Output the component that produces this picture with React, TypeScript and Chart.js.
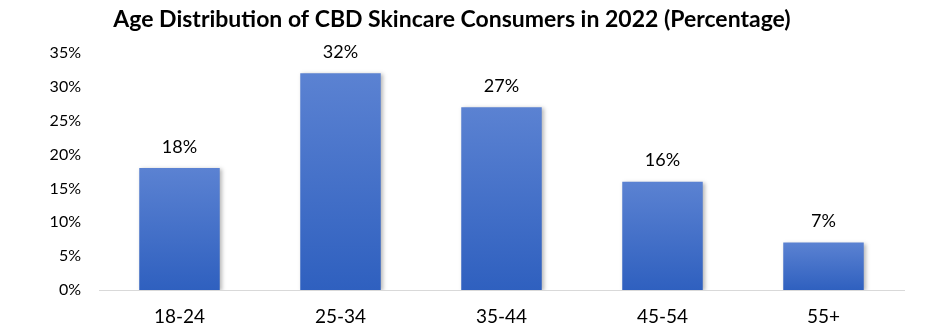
import React, { useEffect, useRef } from "react";
import { Chart, registerables } from "chart.js";

Chart.register(...registerables);

const titleText = "Age Distribution of CBD Skincare Consumers in 2022 (Percentage)";
const categories = ["18-24", "25-34", "35-44", "45-54", "55+"];
const shares = [18, 32, 27, 16, 7];
const yMax = 35;
const yStep = 5;

const FONT = "Lato, 'Open Sans', sans-serif";

const labelPlugin = {
  id: "barLabels",
  beforeDatasetsDraw(chart: any) {
    const ctx = chart.ctx;
    ctx.save();
    ctx.shadowColor = "rgba(0,0,0,0.28)";
    ctx.shadowBlur = 4;
    ctx.shadowOffsetX = 2;
    ctx.shadowOffsetY = 1;
  },
  afterDatasetsDraw(chart: any) {
    const ctx = chart.ctx;
    ctx.restore();
    const meta = chart.getDatasetMeta(0);
    ctx.save();
    ctx.font = `18px ${FONT}`;
    ctx.fillStyle = "#000";
    ctx.textAlign = "center";
    ctx.textBaseline = "middle";
    meta.data.forEach((bar: any, i: number) => {
      ctx.fillText(`${shares[i]}%`, bar.x, bar.y - 21);
    });
    ctx.restore();
  },
};

export default function App() {
  const ref = useRef<HTMLCanvasElement>(null);
  useEffect(() => {
    document.body.style.margin = "0";
    const canvas = ref.current!;
    const chart = new Chart(canvas, {
      type: "bar",
      data: {
        labels: categories,
        datasets: [
          {
            data: shares,
            barPercentage: 0.5,
            categoryPercentage: 1,
            borderWidth: 0,
            backgroundColor: (c: any) => {
              const ch = c.chart;
              const y = ch.scales?.y;
              if (!ch.chartArea || !y || c.raw == null) return "#4472C4";
              const top = y.getPixelForValue(c.raw);
              const bottom = y.getPixelForValue(0);
              const g = ch.ctx.createLinearGradient(0, top, 0, bottom);
              g.addColorStop(0, "#5B82D2");
              g.addColorStop(1, "#2F60BF");
              return g;
            },
          },
        ],
      },
      options: {
        animation: false,
        responsive: false,
        maintainAspectRatio: false,
        layout: { padding: { left: 0, right: 48, top: 0, bottom: 0 } },
        plugins: {
          legend: { display: false },
          tooltip: { enabled: false },
          title: {
            display: true,
            text: titleText,
            color: "#000",
            font: { family: FONT, size: 23, weight: "bold", lineHeight: 1.2 },
            padding: { top: 6, bottom: 19.4 },
          },
        },
        scales: {
          x: {
            grid: { display: false, drawTicks: false },
            border: { display: true, color: "#d9d9d9", width: 1 },
            ticks: {
              color: "#000",
              font: { family: FONT, size: 19 },
              padding: 15,
            },
            afterFit: (s: any) => {
              s.height = 46;
            },
          },
          y: {
            min: 0,
            max: yMax,
            grid: { display: false, drawTicks: false },
            border: { display: false },
            ticks: {
              stepSize: yStep,
              color: "#000",
              font: { family: FONT, size: 16 },
              padding: 18,
              callback: (v: any) => `${v}%`,
            },
            afterFit: (s: any) => {
              s.width = 99;
            },
          },
        },
      },
      plugins: [labelPlugin],
    });
    return () => chart.destroy();
  }, []);
  return (
    <div style={{ position: "absolute", left: 0, top: 0, width: 952, height: 336, background: "#fff" }}>
      <canvas ref={ref} width={952} height={336} style={{ width: 952, height: 336 }} />
    </div>
  );
}
